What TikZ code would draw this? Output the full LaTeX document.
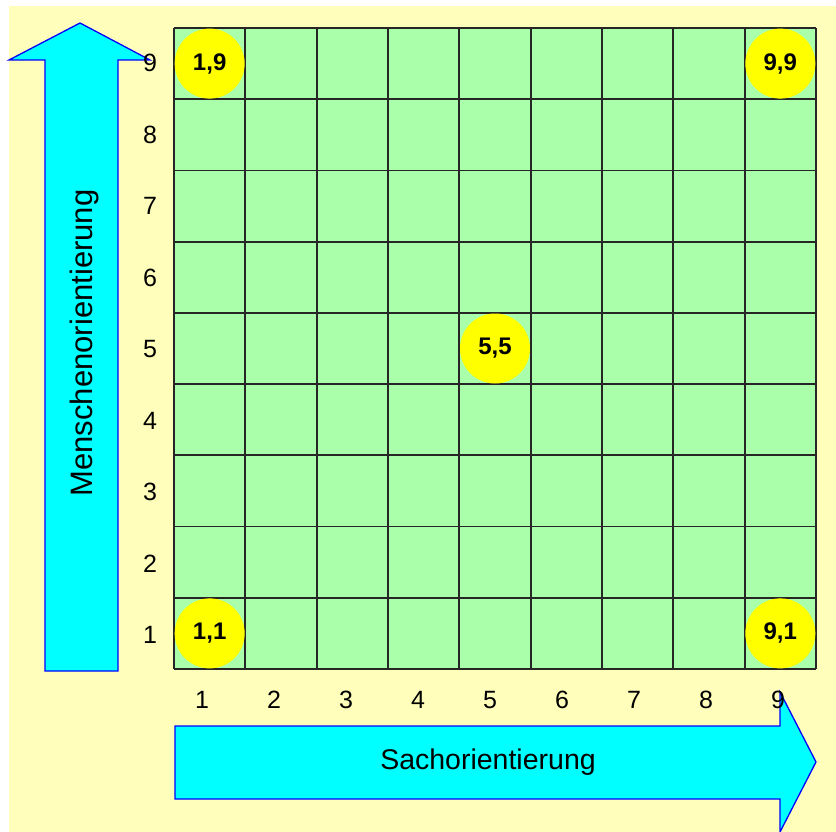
\documentclass[tikz,border=0pt]{standalone}
\usepackage{fontspec}
\setmainfont{Liberation Sans}
\definecolor{bgyellow}{RGB}{255,255,187}
\definecolor{gridgreen}{RGB}{170,255,170}
\definecolor{arrowcyan}{RGB}{0,255,255}
\definecolor{arrowblue}{RGB}{0,0,255}
\definecolor{spotyellow}{RGB}{255,255,0}
\begin{document}
\begin{tikzpicture}[x=1pt,y=-1pt,
  arrowshape/.style={fill=arrowcyan, draw=arrowblue, line width=1.3pt, line join=miter},
  gridline/.style={draw=black!85, line width=1.7pt},
  spot/.style={circle, fill=spotyellow, minimum size=70pt, inner sep=0pt, font=\bfseries\fontsize{24}{24}\selectfont},
  ticklabel/.style={inner sep=0pt, font=\fontsize{25}{25}\selectfont},
  axistitle/.style={inner sep=0pt}]
\useasboundingbox (0,0) rectangle (836,832);
\fill[white] (0,0) rectangle (836,832);
\fill[bgyellow] (9,6) rectangle (836,832);
% arrows
\draw[arrowshape] (45,671) -- (45,60) -- (9,60) -- (80,23) -- (150,60) -- (118,60) -- (118,671) -- cycle;
\draw[arrowshape] (175,726) -- (780,726) -- (780,692) -- (816,762) -- (780,832) -- (780,799) -- (175,799) -- cycle;
\node[axistitle, rotate=90, font=\fontsize{31}{31}\selectfont] (ytitle) at (84,343) {Menschenorientierung};
\node[axistitle, font=\fontsize{28.5}{28.5}\selectfont] (xtitle) at (488,762) {Sachorientierung};
% grid
\fill[gridgreen] (174,28) rectangle (816,669);
\foreach \i in {0,...,9} {
  \draw[gridline] ({174+\i*71.333},28) -- ({174+\i*71.333},669);
  \draw[gridline] (174,{28+\i*71.222}) -- (816,{28+\i*71.222});
}
% tick labels
\foreach \i in {1,...,9} {
  \node[ticklabel] (xl\i) at ({202+(\i-1)*72},700) {\i};
  \node[ticklabel] (yl\i) at (150,{635-(\i-1)*71.5}) {\i};
}
% spots
\foreach \c/\r in {1/1,1/9,5/5,9/1,9/9} {
  \node[spot] (spot\c\r) at ({174+(\c-0.5)*71.333},{669-(\r-0.5)*71.222}) {\c,\r};
}
\end{tikzpicture}
\end{document}
